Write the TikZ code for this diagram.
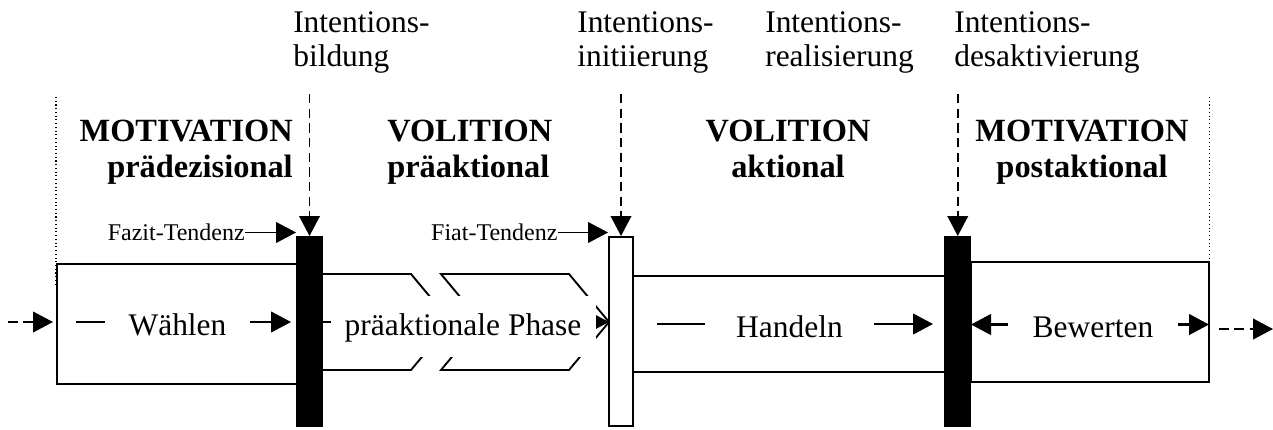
\documentclass[tikz,border=0pt]{standalone}
\usepackage{fontspec}
\setmainfont{Liberation Serif}
\usetikzlibrary{arrows.meta}

\begin{document}
\begin{tikzpicture}[x=0.75pt,y=-0.75pt,
  outline/.style={line width=1.4pt},
  arr/.style={line width=1.6pt,-{Triangle[length=15pt,width=15.5pt]}},
  biarr/.style={line width=1.6pt,{Triangle[length=15pt,width=15.5pt]}-{Triangle[length=15pt,width=15.5pt]}},
  dasharr/.style={arr,line width=1.4pt,dash pattern=on 7.5pt off 4pt},
  downarr/.style={line width=1.2pt,dash pattern=on 7pt off 4pt,-{Triangle[length=15pt,width=15.5pt]}},
  border/.style={line width=0.8pt,dotted},
  label/.style={inner sep=0pt,align=left,font=\fontsize{23.6}{25.5}\selectfont},
  heading/.style={inner sep=0pt,font=\fontsize{24.3}{27}\selectfont\bfseries},
  tendency/.style={inner sep=0pt,font=\fontsize{18}{20}\selectfont},
  phasetext/.style={inner sep=0pt,fill=white,font=\fontsize{23.6}{25.5}\selectfont},
  blackbar/.style={draw,fill=black,line width=1.4pt,inner sep=0pt,minimum height=142pt},
  whitebar/.style={draw,fill=white,line width=1.4pt,inner sep=0pt,minimum height=142pt},
  phasebox/.style={draw,outline,inner sep=0pt}
]
\useasboundingbox (0,0) rectangle (1273,429);

% outer borders of the motivational phases
\coordinate (dlt) at (56,97);
\coordinate (dlb) at (56,287);
\coordinate (drt) at (1209.5,97);
\coordinate (drb) at (1209.5,287);
\draw[border] (dlt) -- (dlb);
\draw[border] (drt) -- (drb);

% phase boxes
\node[phasebox,minimum width=180pt,minimum height=90pt] (wbox) at (177,324) {};
\node[phasebox,minimum width=234pt,minimum height=72pt] (hbox) at (789,323.7) {};
\node[phasebox,minimum width=178.7pt,minimum height=90pt] (bbox) at (1089.85,322.3) {};

% preactional phase as two chevron pieces
\draw[outline] (322,274) -- (411,274) -- (451,322) -- (411,370) -- (322,370);
\draw[outline] (441,274) -- (569,274) -- (609,322) -- (569,370) -- (441,370) -- (481,322) -- cycle;

% transition bars
\node[blackbar,minimum width=18.75pt,anchor=north] (b1) at (309.5,236) {};
\node[whitebar,minimum width=18pt,anchor=north] (b2) at (621,236) {};
\node[blackbar,minimum width=19.1pt,anchor=north] (b3) at (957.75,236) {};

% arrows inside the phases
\coordinate (w0) at (76,322);
\coordinate (w1) at (291,322);
\draw[arr] (w0) -- (w1);
\coordinate (p0) at (322,322);
\coordinate (p1) at (609,322);
\draw[arr] (p0) -- (p1);
\coordinate (h0) at (657,324);
\coordinate (h1) at (933,324);
\draw[arr] (h0) -- (h1);
\coordinate (e0) at (971,324.5);
\coordinate (e1) at (1209,324.5);
\draw[biarr] (e0) -- (e1);

% phase names
\node[phasetext,minimum width=108.75pt,anchor=base] (wtext) at (177.5,335) {Wählen};
\node[phasetext,minimum width=198.75pt,text height=29.25pt,text depth=16.5pt,anchor=base] (ptext) at (463,335) {präaktionale Phase};
\node[phasetext,minimum width=126.75pt,anchor=base] (htext) at (789.5,337) {Handeln};
\node[phasetext,minimum width=127.5pt,anchor=base] (btext) at (1093,337) {Bewerten};

% incoming and outgoing arrows
\coordinate (in0) at (8,322);
\coordinate (in1) at (53,322);
\draw[dasharr] (in0) -- (in1);
\coordinate (out0) at (1219,329);
\coordinate (out1) at (1273,329);
\draw[dasharr] (out0) -- (out1);

% transition labels (anchored at the baseline of the second line)
\node[label,anchor=base west] (l1) at (293,66) {Intentions-\\bildung};
\node[label,anchor=base west] (l2) at (577,66) {Intentions-\\initiierung};
\node[label,anchor=base west] (l3) at (765,66) {Intentions-\\realisierung};
\node[label,anchor=base west] (l4) at (954,66) {Intentions-\\desaktivierung};

\coordinate (d1) at (309.5,94);
\coordinate (d2) at (621,94);
\coordinate (d3) at (957.75,94);
\draw[downarr] (d1) -- (b1.north);
\draw[downarr] (d2) -- (b2.north);
\draw[downarr] (d3) -- (b3.north);

% phase headings (anchored at the baseline of the second line)
\node[heading,align=right,anchor=base east] (h1) at (293,177) {MOTIVATION\\prädezisional};
\node[heading,align=left,anchor=base west] (h2) at (387,177) {VOLITION\\präaktional};
\node[heading,align=center,anchor=base] (h3) at (788,177) {VOLITION\\aktional};
\node[heading,align=center,anchor=base] (h4) at (1082,177) {MOTIVATION\\postaktional};

% tendencies
\node[tendency,anchor=base east] (fazit) at (245,240.7) {Fazit-Tendenz};
\node[tendency,anchor=base east] (fiat) at (557.7,240.7) {Fiat-Tendenz};
\draw[arr,line width=1.3pt] (fazit.east) -- (fazit.east -| b1.west);
\draw[arr,line width=1.3pt] (fiat.east) -- (fiat.east -| b2.west);
\end{tikzpicture}
\end{document}
